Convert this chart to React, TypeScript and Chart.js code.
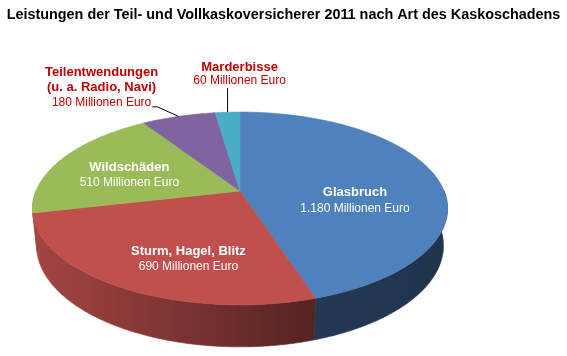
import React, { useEffect, useRef } from "react";
import { Chart, registerables } from "chart.js";

Chart.register(...registerables);

// ---------- data ----------
const title = "Leistungen der Teil- und Vollkaskoversicherer 2011 nach Art des Kaskoschadens";
const categories = ["Glasbruch", "Sturm, Hagel, Blitz", "Wildschäden", "Teilentwendungen (u. a. Radio, Navi)", "Marderbisse"];
const nameLines = [["Glasbruch"], ["Sturm, Hagel, Blitz"], ["Wildschäden"], ["Teilentwendungen", "(u. a. Radio, Navi)"], ["Marderbisse"]];
const values = [1180, 690, 510, 180, 60];
const valueLabels = ["1.180 Millionen Euro", "690 Millionen Euro", "510 Millionen Euro", "180 Millionen Euro", "60 Millionen Euro"];
const colors = ["#4F81BD", "#C0504D", "#9BBB59", "#8064A2", "#4BACC6"];

// ---------- 3D view (layout) ----------
const CX = 240;
const CY = 191;
const FOC = 1002;
const DIST = 4.91;
const SIN_A = 0.457;
const COS_A = 0.889;
const THICK = 0.206;
const FONT = '"Liberation Sans", Arial, sans-serif';

function proj(phi: number, r: number, h: number) {
  const u = r * Math.cos(phi);
  const v = r * Math.sin(phi);
  const yc = v * SIN_A + h * COS_A;
  const zc = DIST - v * COS_A + h * SIN_A;
  return { x: CX + (FOC * u) / zc, y: CY + (FOC * yc) / zc };
}

function hexRgb(hex: string) {
  const n = parseInt(hex.slice(1), 16);
  return [(n >> 16) & 255, (n >> 8) & 255, n & 255];
}
function shade(hex: string, f: number) {
  const [r, g, b] = hexRgb(hex);
  return `rgb(${Math.round(r * f)},${Math.round(g * f)},${Math.round(b * f)})`;
}

// label style per slice: inside (white) or outside (red with leader)
const labelMode = ["in", "in", "in", "out", "out"];
const labelShift = [
  [1, -0.5],
  [12, -3.5],
  [-6, -14.5],
  [-77, -28.5],
  [12, -45],
];

const pie3d = {
  id: "pie3d",
  beforeDatasetsDraw(chart: any) {
    const ctx: CanvasRenderingContext2D = chart.ctx;
    const arcs: any[] = chart.getDatasetMeta(0).data;
    const step = Math.PI / 360;

    // sides (front, visible part)
    const segs: { a: number; b: number; i: number }[] = [];
    arcs.forEach((arc, i) => {
      const s = arc.startAngle;
      const e = arc.endAngle;
      for (const off of [0, -2 * Math.PI, 2 * Math.PI]) {
        const a = Math.max(s + off, 0);
        const b = Math.min(e + off, Math.PI);
        if (b > a) segs.push({ a, b, i });
      }
    });
    segs.sort((p, q) => Math.sin((p.a + p.b) / 2) - Math.sin((q.a + q.b) / 2));
    ctx.save();
    for (const sg of segs) {
      const base = colors[sg.i];
      const g = ctx.createLinearGradient(33, 0, 448, 0);
      g.addColorStop(0, shade(base, 0.86));
      g.addColorStop(0.68, shade(base, 0.44));
      g.addColorStop(1, shade(base, 0.4));
      ctx.beginPath();
      let first = true;
      for (let p = sg.a; p <= sg.b + 1e-9; p += step) {
        const pt = proj(Math.min(p, sg.b), 1, 0);
        if (first) { ctx.moveTo(pt.x, pt.y); first = false; } else ctx.lineTo(pt.x, pt.y);
      }
      const e1 = proj(sg.b, 1, 0);
      ctx.lineTo(e1.x, e1.y);
      for (let p = sg.b; p >= sg.a - 1e-9; p -= step) {
        const pt = proj(Math.max(p, sg.a), 1, THICK);
        ctx.lineTo(pt.x, pt.y);
      }
      const e2 = proj(sg.a, 1, THICK);
      ctx.lineTo(e2.x, e2.y);
      ctx.closePath();
      ctx.fillStyle = g;
      ctx.fill();
      ctx.strokeStyle = g;
      ctx.lineWidth = 0.6;
      ctx.stroke();
    }

    // top faces
    arcs.forEach((arc, i) => {
      const s = arc.startAngle;
      const e = arc.endAngle;
      ctx.beginPath();
      const c = proj(0, 0, 0);
      ctx.moveTo(c.x, c.y);
      for (let p = s; p <= e + 1e-9; p += step) {
        const pt = proj(Math.min(p, e), 1, 0);
        ctx.lineTo(pt.x, pt.y);
      }
      const pe = proj(e, 1, 0);
      ctx.lineTo(pe.x, pe.y);
      ctx.closePath();
      ctx.fillStyle = colors[i];
      ctx.fill();
      ctx.strokeStyle = colors[i];
      ctx.lineWidth = 0.6;
      ctx.stroke();
    });
    ctx.restore();
    return false;
  },
  afterDraw(chart: any) {
    const ctx: CanvasRenderingContext2D = chart.ctx;
    const arcs: any[] = chart.getDatasetMeta(0).data;
    ctx.save();
    ctx.textAlign = "center";
    ctx.textBaseline = "middle";
    arcs.forEach((arc, i) => {
      const mid = (arc.startAngle + arc.endAngle) / 2;
      const [dx, dy] = labelShift[i];
      if (labelMode[i] === "in") {
        const a = proj(mid, 0.58, THICK / 2);
        const x = a.x + dx;
        const y = a.y + dy;
        ctx.fillStyle = "#FFFFFF";
        ctx.font = `bold 13px ${FONT}`;
        ctx.fillText(nameLines[i][0], x, y - 8);
        ctx.font = `12px ${FONT}`;
        ctx.fillText(valueLabels[i], x, y + 8);
      } else {
        const edge = proj(mid, 1, 0);
        const x = edge.x + dx;
        const lines = nameLines[i];
        const y0 = edge.y + dy - (lines.length - 1) * 15;
        ctx.fillStyle = "#C00000";
        ctx.font = `bold 13px ${FONT}`;
        lines.forEach((t, k) => ctx.fillText(t, x, y0 + k * 15));
        ctx.font = `12px ${FONT}`;
        const vy = y0 + lines.length * 15 - (lines.length > 1 ? 0 : 2);
        ctx.fillText(valueLabels[i], x, vy);
        // leader line
        ctx.strokeStyle = "#000000";
        ctx.lineWidth = 1;
        ctx.beginPath();
        if (lines.length > 1) {
          const w = ctx.measureText(valueLabels[i]).width;
          const sx = x + w / 2 + 1;
          ctx.moveTo(sx, vy + 4);
          ctx.lineTo(sx + 5, vy + 4);
          ctx.lineTo(edge.x, edge.y);
        } else {
          ctx.moveTo(edge.x, vy + 8);
          ctx.lineTo(edge.x, edge.y);
        }
        ctx.stroke();
      }
    });
    ctx.restore();
  },
};

export default function App() {
  const ref = useRef<HTMLCanvasElement | null>(null);
  useEffect(() => {
    if (!ref.current) return;
    const chart = new Chart(ref.current, {
      type: "pie",
      data: {
        labels: categories,
        datasets: [{ data: values, backgroundColor: colors, borderWidth: 0 }],
      },
      options: {
        responsive: false,
        animation: false,
        devicePixelRatio: 1,
        events: [],
        layout: { padding: 0 },
        plugins: {
          legend: { display: false },
          tooltip: { enabled: false },
          title: {
            display: true,
            text: title,
            color: "#000000",
            font: { family: FONT, size: 14.4, weight: "bold" },
            padding: { top: 6, bottom: 4 },
          },
        },
      },
      plugins: [pie3d],
    });
    return () => chart.destroy();
  }, []);
  return (
    <div style={{ position: "absolute", left: 0, top: 0, width: 567, height: 356, background: "#FFFFFF" }}>
      <canvas ref={ref} width={567} height={356} />
    </div>
  );
}
